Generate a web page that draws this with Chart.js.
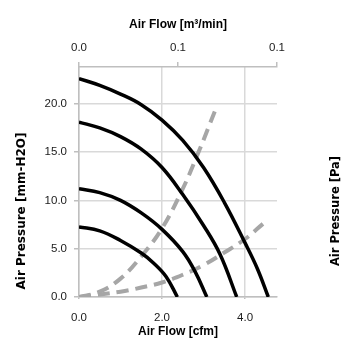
<!DOCTYPE html>
<html><head><meta charset="utf-8">
<script src="https://cdn.jsdelivr.net/npm/chart.js@4/dist/chart.umd.min.js"></script>
<style>html,body{margin:0;padding:0;background:#fff}#wrap{width:355px;height:355px}</style>
</head><body><div id="wrap"><canvas id="c" width="355" height="355"></canvas></div>
<script>
// ---- data ----
const xTicks = [0, 2, 4];
const yTicks = [0, 5, 10, 15, 20];
const topTicks = [0, 0.0675, 0.135];
const xMax = 4.77, yMax = 23.8, topMax = 0.135;

const fan1X = [0, 0.5, 1.0, 1.5, 2.0, 2.5, 3.0, 3.5, 4.0, 4.3, 4.56];
const fan1Y = [22.6, 21.9, 21.0, 19.9, 18.3, 16.2, 13.4, 9.8, 5.6, 2.9, 0];
const fan2X = [0, 0.5, 1.0, 1.5, 2.0, 2.5, 3.0, 3.4, 3.8];
const fan2Y = [18.1, 17.5, 16.6, 15.3, 13.4, 10.6, 7.4, 4.4, 0];
const fan3X = [0, 0.5, 1.0, 1.5, 2.0, 2.5, 2.8, 3.08];
const fan3Y = [11.2, 10.8, 10.0, 8.7, 7.0, 4.7, 2.6, 0];
const fan4X = [0, 0.5, 1.0, 1.5, 1.8, 2.1, 2.37];
const fan4Y = [7.25, 6.85, 5.85, 4.55, 3.5, 2.1, 0];
const sysAX = [0, 0.5, 1.0, 1.5, 2.0, 2.5, 2.9, 3.28];
const sysAY = [0, 0.55, 1.9, 4.2, 7.1, 11.2, 15.2, 19.3];
const sysBX = [0, 1.0, 1.5, 2.0, 2.5, 3.0, 3.5, 4.0, 4.44];
const sysBY = [0, 0.55, 0.98, 1.5, 2.3, 3.3, 4.6, 6.0, 7.6];

const topTitle = 'Air Flow [m³/min]';
const bottomTitle = 'Air Flow [cfm]';
const leftTitle = 'Air Pressure [mm-H2O]';
const rightTitle = 'Air Pressure [Pa]';

const pts = (xs, ys) => xs.map((x, i) => ({x, y: ys[i]}));
const solid = (xs, ys) => ({data: pts(xs, ys), borderColor: '#000', borderWidth: 3.5, showLine: true,
  pointRadius: 0, tension: 0.4, fill: false});
const dashed = (xs, ys) => ({data: pts(xs, ys), borderColor: '#a6a6a6', borderWidth: 4, borderDash: [12, 7],
  showLine: true, pointRadius: 0, tension: 0.4, fill: false});

const tickFont = {family: '"Liberation Sans", Arial, sans-serif', size: 11.5};
const gridCol = '#d9d9d9', axisCol = '#bfbfbf';

const titles = {
  id: 'titles',
  afterDraw(chart) {
    const ctx = chart.ctx, a = chart.chartArea;
    const cx = (a.left + a.right) / 2;
    ctx.save();
    ctx.fillStyle = '#000';
    ctx.textAlign = 'center';
    ctx.textBaseline = 'middle';
    ctx.font = 'bold 12px "Liberation Sans", Arial, sans-serif';
    ctx.fillText(topTitle, cx, 25);
    ctx.fillText(bottomTitle, cx, 332);
    ctx.font = 'bold 12px "DejaVu Sans", sans-serif';
    ctx.save(); ctx.translate(22, 211); ctx.rotate(-Math.PI / 2); ctx.fillText(leftTitle, 0, 0); ctx.restore();
    ctx.font = 'bold 11.5px "DejaVu Sans", sans-serif';
    ctx.save(); ctx.translate(336, 211); ctx.rotate(-Math.PI / 2); ctx.fillText(rightTitle, 0, 0); ctx.restore();
    ctx.restore();
  }
};

new Chart(document.getElementById('c'), {
  type: 'scatter',
  data: {datasets: [
    solid(fan1X, fan1Y), solid(fan2X, fan2Y), solid(fan3X, fan3Y), solid(fan4X, fan4Y),
    dashed(sysAX, sysAY), dashed(sysBX, sysBY)
  ]},
  options: {
    responsive: false, animation: false,
    layout: {padding: {left: 0, right: 78, top: 0, bottom: 0}},
    plugins: {legend: {display: false}, tooltip: {enabled: false}},
    scales: {
      x: {type: 'linear', position: 'bottom', min: 0, max: xMax,
        afterBuildTicks: s => { s.ticks = xTicks.map(v => ({value: v})); },
        afterFit: s => { s.height = 58; },
        ticks: {font: tickFont, color: '#1a1a1a', padding: 12, maxRotation: 0, callback: v => v.toFixed(1)},
        grid: {color: gridCol, lineWidth: 1.5, tickLength: 2, tickColor: axisCol},
        border: {color: axisCol, width: 1.5}},
      x2: {type: 'linear', position: 'top', min: 0, max: topMax,
        afterBuildTicks: s => { s.ticks = topTicks.map(v => ({value: v})); },
        afterFit: s => { s.height = 67; },
        ticks: {font: tickFont, color: '#1a1a1a', padding: 7, maxRotation: 0, callback: v => v.toFixed(1)},
        grid: {drawOnChartArea: false, tickLength: 5, tickColor: axisCol, lineWidth: 1.5},
        border: {color: axisCol, width: 1.5}},
      y: {type: 'linear', position: 'left', min: 0, max: yMax,
        afterBuildTicks: s => { s.ticks = yTicks.map(v => ({value: v})); },
        afterFit: s => { s.width = 79; },
        ticks: {font: tickFont, color: '#1a1a1a', padding: 7, callback: v => v.toFixed(1)},
        grid: {color: gridCol, lineWidth: 1.5, tickLength: 5, tickColor: axisCol},
        border: {color: axisCol, width: 1.5}}
    }
  },
  plugins: [titles]
});
</script>
</body></html>
